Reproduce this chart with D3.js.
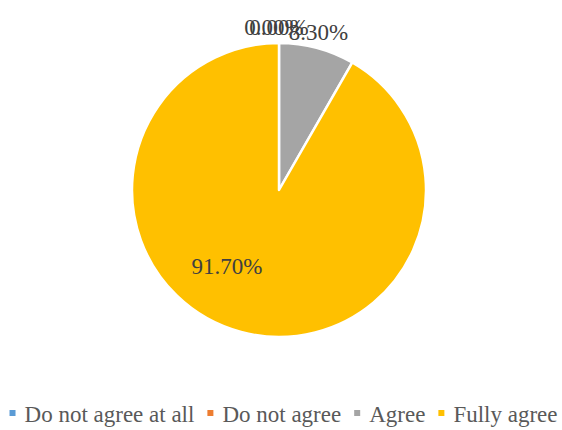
<!DOCTYPE html>
<html>
<head>
<meta charset="utf-8">
<script src="https://cdn.jsdelivr.net/npm/d3@7"></script>
<style>
  html, body { margin: 0; padding: 0; background: #fff; }
  svg { display: block; }
</style>
</head>
<body>
<svg id="chart" width="562" height="430"></svg>
<script>
// Survey answers and their share of respondents (%)
const categories = ["Do not agree at all", "Do not agree", "Agree", "Fully agree"];
const shares = [0.00, 0.00, 8.30, 91.70];
const colors = ["#5B9BD5", "#ED7D31", "#A5A5A5", "#FFC000"];

const cx = 279, cy = 190, R = 147;
const SERIF = '"Liberation Serif", "Times New Roman", serif';

const svg = d3.select("#chart");
const data = categories.map((c, i) => ({ name: c, value: shares[i], color: colors[i] }));

const pie = d3.pie().value(d => d.value).sort(null);
const arcs = pie(data);
const arc = d3.arc().innerRadius(0).outerRadius(R);

const g = svg.append("g").attr("transform", `translate(${cx},${cy})`);

g.selectAll("path.slice")
  .data(arcs.filter(a => a.value > 0))
  .join("path")
  .attr("class", "slice")
  .attr("d", arc)
  .attr("fill", d => d.data.color)
  .attr("stroke", "#fff")
  .attr("stroke-width", 2.5)
  .attr("stroke-linejoin", "round");

// Data labels: small slices sit just outside the rim, the large one inside
const outerLabel = d3.arc().innerRadius(R + 14).outerRadius(R + 14);
const fmt = v => v.toFixed(2) + "%";
const nudges = [[-5, 0], [0, 0], [-2, 0], [0, 0]];
const total = d3.sum(shares);

g.selectAll("text.lbl")
  .data(arcs)
  .join("text")
  .attr("class", "lbl")
  .style("font-family", SERIF)
  .attr("font-size", 23)
  .attr("fill", "#404040")
  .attr("text-anchor", "middle")
  .attr("transform", (d, i) => {
    let p;
    if (d.value / total > 0.5) {
      const ang = Math.PI + 0.588;
      p = [Math.sin(ang) * 94, -Math.cos(ang) * 94];
    } else {
      p = outerLabel.centroid(d);
    }
    return `translate(${p[0] + nudges[i][0]},${p[1] + nudges[i][1] + 6})`;
  })
  .text(d => fmt(d.value));

// Legend along the bottom
const legend = svg.append("g");
const items = data.map(d => {
  const t = legend.append("text")
    .style("font-family", SERIF)
    .attr("font-size", 23)
    .attr("fill", "#595959")
    .text(d.name);
  return { d, t, w: t.node().getComputedTextLength() };
});
const markerSize = 6, markerGap = 9, itemGap = 13;
const span = d3.sum(items, it => markerSize + markerGap + it.w) + itemGap * (items.length - 1);
let x = 283.5 - span / 2;
const baseline = 422;
items.forEach(it => {
  legend.append("rect")
    .attr("x", x).attr("y", baseline - 12)
    .attr("width", markerSize).attr("height", markerSize)
    .attr("fill", it.d.color);
  it.t.attr("x", x + markerSize + markerGap).attr("y", baseline);
  x += markerSize + markerGap + it.w + itemGap;
});
</script>
</body>
</html>
